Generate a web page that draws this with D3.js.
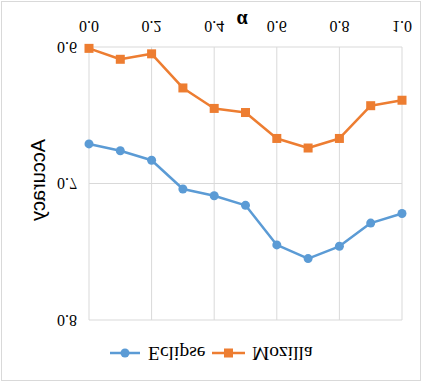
<!DOCTYPE html>
<html><head><meta charset="utf-8">
<script src="https://cdn.jsdelivr.net/npm/d3@7"></script>
<style>html,body{margin:0;padding:0;background:#fff;}</style>
</head><body>
<svg id="chart" width="423" height="383"></svg>
<script>
const alphas = [0.0,0.1,0.2,0.3,0.4,0.5,0.6,0.7,0.8,0.9,1.0];
const eclipse = [0.671,0.676,0.683,0.704,0.709,0.716,0.745,0.755,0.746,0.729,0.722];
const mozilla = [0.601,0.609,0.605,0.630,0.645,0.648,0.667,0.674,0.667,0.643,0.639];
const seriesNames = ["Eclipse","Mozilla"];
const xTicks = [0.0,0.2,0.4,0.6,0.8,1.0];
const yTicks = [0.6,0.7,0.8];

const W = 423, H = 383;
const svg = d3.select("#chart");
svg.append("rect").attr("width",W).attr("height",H).attr("fill","#fff");
// the reference is a vertically mirrored picture of the chart
const g = svg.append("g").attr("transform",`translate(0,${H}) scale(1,-1)`);

g.append("rect").attr("x",1.5).attr("y",2.5).attr("width",419).attr("height",379)
  .attr("fill","none").attr("stroke","#D9D9D9").attr("stroke-width",1);

const x = d3.scaleLinear().domain([0,1]).range([89,402]);
const y = d3.scaleLinear().domain([0.6,0.8]).range([336,63]);

const grid = "#D9D9D9";
g.append("g").selectAll("line").data(xTicks).join("line")
  .attr("x1",d=>x(d)).attr("x2",d=>x(d)).attr("y1",y(0.6)).attr("y2",y(0.8))
  .attr("stroke",grid).attr("stroke-width",1);
g.append("g").selectAll("line").data(yTicks).join("line")
  .attr("x1",x(0)).attr("x2",x(1)).attr("y1",d=>y(d)).attr("y2",d=>y(d))
  .attr("stroke",grid).attr("stroke-width",1);

g.append("g").selectAll("text").data(xTicks).join("text")
  .attr("x",d=>x(d)).attr("y",357).attr("text-anchor","middle")
  .attr("dominant-baseline","central")
  .attr("font-family","Liberation Serif").attr("font-size",16).attr("fill","#000")
  .text(d=>d3.format(".1f")(d));
g.append("g").selectAll("text").data(yTicks).join("text")
  .attr("x",77).attr("y",d=>y(d)).attr("text-anchor","end")
  .attr("dominant-baseline","central")
  .attr("font-family","Liberation Serif").attr("font-size",16).attr("fill","#000")
  .text(d=>d3.format(".1f")(d));

g.append("text").attr("x",242).attr("y",362).attr("text-anchor","middle")
  .attr("dominant-baseline","central")
  .attr("font-family","Liberation Serif").attr("font-weight","bold").attr("font-size",20)
  .text("α");
g.append("text").attr("transform","translate(37.5,203) rotate(-90)")
  .attr("text-anchor","middle").attr("dominant-baseline","central")
  .attr("font-family","Liberation Sans").attr("font-size",20)
  .text("Accuracy");

const colors = ["#5B9BD5","#ED7D31"];
const line = d3.line().x((d,i)=>x(alphas[i])).y(d=>y(d));
[eclipse,mozilla].forEach((s,k)=>{
  g.append("path").attr("d",line(s)).attr("fill","none")
    .attr("stroke",colors[k]).attr("stroke-width",2.5).attr("stroke-linejoin","round");
  if(k===0){
    g.append("g").selectAll("circle").data(s).join("circle")
      .attr("cx",(d,i)=>x(alphas[i])).attr("cy",d=>y(d)).attr("r",4.5).attr("fill",colors[k]);
  } else {
    g.append("g").selectAll("rect").data(s).join("rect")
      .attr("x",(d,i)=>x(alphas[i])-4.5).attr("y",d=>y(d)-4.5)
      .attr("width",9).attr("height",9).attr("fill",colors[k]);
  }
});

const leg = [{x1:110,x2:140,tx:148},{x1:212,x2:245,tx:252}];
leg.forEach((l,k)=>{
  const ly = 30;
  g.append("line").attr("x1",l.x1).attr("x2",l.x2).attr("y1",ly).attr("y2",ly)
    .attr("stroke",colors[k]).attr("stroke-width",2.5);
  const cx=(l.x1+l.x2)/2;
  if(k===0) g.append("circle").attr("cx",cx).attr("cy",ly).attr("r",4.5).attr("fill",colors[k]);
  else g.append("rect").attr("x",cx-4.5).attr("y",ly-4.5).attr("width",9).attr("height",9).attr("fill",colors[k]);
  g.append("text").attr("x",l.tx).attr("y",ly).attr("dominant-baseline","central")
    .attr("font-family","Liberation Serif").attr("font-size",19.5).attr("fill","#000")
    .text(seriesNames[k]);
});
</script>
</body></html>
